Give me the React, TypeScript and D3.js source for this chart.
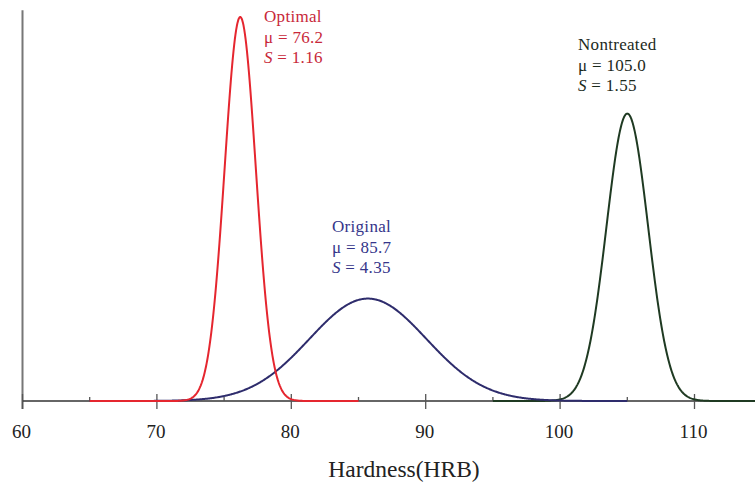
import React from "react";
import * as d3 from "d3";

const W = 755;
const H = 486;

// Distributions (normal)
const seriesNames = ["Nontreated", "Original", "Optimal"];
const means = [105.0, 85.7, 76.2];
const sds = [1.55, 4.35, 1.16];
const rangeStart = [95, 65, 65];
const rangeEnd = [115, 105, 85];
const lineColors = ["#1f3a22", "#2e2c6c", "#e5262f"];
const textColors = ["#1c2a1c", "#35358a", "#c8283a"];
const meanLabels = ["105.0", "85.7", "76.2"];
const sdLabels = ["1.55", "4.35", "1.16"];

const majorTicks = [60, 70, 80, 90, 100, 110];
const minorTicks = [65, 75, 85, 95, 105];
const xTitle = "Hardness(HRB)";

const FONT = "'Liberation Serif', 'DejaVu Serif', serif";

export default function App() {
  const x = d3.scaleLinear().domain([60, 110]).range([22.5, 694.5]);
  const baseY = 401;
  const y = d3.scaleLinear().domain([0, 0.35]).range([baseY, baseY - 0.35 * 1116.6]);

  const pdf = (v: number, m: number, s: number) =>
    Math.exp(-0.5 * ((v - m) / s) ** 2) / (s * Math.sqrt(2 * Math.PI));

  const line = d3
    .line<[number, number]>()
    .x((d) => x(d[0]))
    .y((d) => y(d[1]))
    .curve(d3.curveLinear);

  const paths = seriesNames.map((_, i) => {
    const pts: [number, number][] = d3
      .range(rangeStart[i], rangeEnd[i] + 0.0001, 0.05)
      .map((v) => [v, pdf(v, means[i], sds[i])]);
    return line(pts) || "";
  });

  const labelPos = [
    { x: 578, y: 50 },
    { x: 332, y: 232 },
    { x: 264, y: 22 },
  ];
  const lh = 20.5;

  return (
    <svg
      width={W}
      height={H}
      style={{ position: "absolute", left: 0, top: 0, background: "#fff" }}
      fontFamily={FONT}
    >
      <line x1={x(60)} x2={x(60)} y1={y(0.35)} y2={409} stroke="#777" strokeWidth={2} />
      <line x1={x(60)} x2={W} y1={baseY} y2={baseY} stroke="#333" strokeWidth={1.3} />
      {majorTicks.map((t) => (
        <line key={"M" + t} x1={x(t)} x2={x(t)} y1={baseY - 7} y2={baseY + 8} stroke="#555" strokeWidth={1.3} />
      ))}
      {minorTicks.map((t) => (
        <line key={"m" + t} x1={x(t)} x2={x(t)} y1={baseY - 4} y2={baseY} stroke="#555" strokeWidth={1.3} />
      ))}
      {majorTicks.map((t) => (
        <text key={"l" + t} x={x(t) - 1} y={438} fontSize={19} textAnchor="middle" fill="#222">
          {t}
        </text>
      ))}
      <text x={404} y={477} fontSize={23.5} textAnchor="middle" fill="#222">
        {xTitle}
      </text>

      {paths.map((p, i) => (
        <path key={"p" + i} d={p} fill="none" stroke={lineColors[i]} strokeWidth={2} strokeLinejoin="round" />
      ))}

      {seriesNames.map((n, i) => (
        <g key={"t" + i} fill={textColors[i]} fontSize={17} letterSpacing={0.3}>
          <text x={labelPos[i].x} y={labelPos[i].y}>{n}</text>
          <text x={labelPos[i].x} y={labelPos[i].y + lh}>
            {"μ = " + meanLabels[i]}
          </text>
          <text x={labelPos[i].x} y={labelPos[i].y + 2 * lh}>
            <tspan fontStyle="italic">S</tspan>
            {" = " + sdLabels[i]}
          </text>
        </g>
      ))}
    </svg>
  );
}
